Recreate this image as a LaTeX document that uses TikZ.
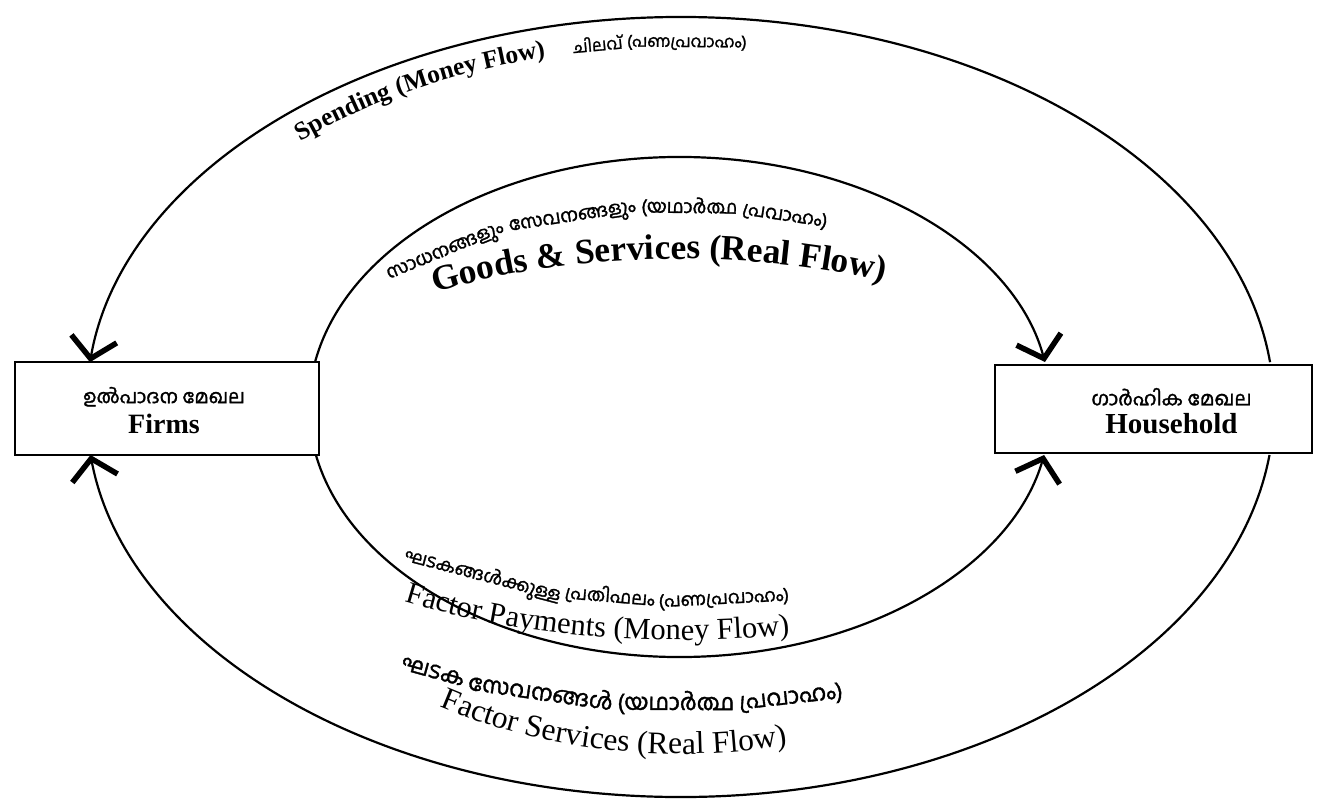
\documentclass[tikz,border=0pt]{standalone}
\usepackage{fontspec}
\setmainfont{Liberation Serif}
\newfontfamily\mlfont[Script=Malayalam,FakeBold=1.6]{Hind Kochi}
\usetikzlibrary{arrows.meta,decorations.text,calc}
\begin{document}
\begin{tikzpicture}[x=1pt,y=1pt,
  flow/.style={line width=2.2pt, -{Straight Barb[length=20pt,width=46pt,line width=5.5pt]}},
  sector/.style={draw, line width=2.6pt, fill=white, inner sep=0pt},
  arctext/.style={decorate, decoration={text along path, text align=left}},
  lbl/.style={align=center, inner sep=0pt},
]
\useasboundingbox[fill=white] (0,0) rectangle (1325,801);
\coordinate (C) at (680,394);

% ---- named end points on the ellipses ----
\coordinate (oTR) at ($(C)+(6.6:594 and 390)$);
\coordinate (oBR) at ($(C)+(352.93:594 and 390)$);
\coordinate (iTL) at ($(C)+(169.63:371 and 250)$);
\coordinate (iBL) at ($(C)+(191.07:371 and 250)$);

% ---- flows ----
\draw[flow] (oTR) arc[start angle=6.6, end angle=173.4, x radius=594, y radius=390];
\draw[flow] (oBR) arc[start angle=352.93, end angle=187.07, x radius=594, y radius=390];
\draw[flow] (iTL) arc[start angle=169.63, end angle=10.37, x radius=371, y radius=250];
\draw[flow] (iBL) arc[start angle=191.07, end angle=348.93, x radius=371, y radius=250];

% ---- sectors ----
\node[sector, minimum width=304pt, minimum height=93pt] (firms) at (167,392.5) {};
\node[sector, minimum width=317pt, minimum height=88pt] (house) at (1153.5,392) {};
\node[lbl] (firmslbl) at ($(firms.center)+(-3,-2)$)
  {{\mlfont\fontsize{19}{22}\selectfont ഉൽപാദന മേഖല}\\[7pt]{\bfseries\fontsize{28}{30}\selectfont Firms}};
\node[lbl] (houselbl) at ($(house.center)+(18,-2)$)
  {{\mlfont\fontsize{19.5}{22}\selectfont ഗാർഹിക മേഖല}\\[7pt]{\bfseries\fontsize{29}{31}\selectfont Household}};

% ---- curved labels ----
\path[arctext, decoration={text={|\bfseries\fontsize{25.5}{30}\selectfont|Spending (Money Flow){\kern28pt}|\mlfont\fontsize{16.5}{19}\selectfont|{ചിലവ്} {(പണപ്രവാഹം)}}}]
  ($(C)+(132.4:563 and 360)$) arc[start angle=132.4, end angle=30, x radius=563, y radius=360];

\path[arctext, decoration={text={|\mlfont\fontsize{18.5}{21}\selectfont|{സാധനങ്ങളും} {സേവനങ്ങളും} {(യഥാർത്ഥ} {പ്രവാഹം)}}}]
  ($(C)+(140.5:374 and 194)$) arc[start angle=140.5, end angle=5, x radius=374, y radius=194];

\path[arctext, decoration={text={|\bfseries\fontsize{35.5}{39}\selectfont|Goods {\&} Services (Real Flow)}}]
  ($(C)+(129.5:385 and 148)$) arc[start angle=129.5, end angle=10, x radius=385, y radius=148];

\path[arctext, decoration={text={|\mlfont\fontsize{18}{21}\selectfont|{ഘടകങ്ങൾക്കുള്ള} {പ്രതിഫലം} {(പണപ്രവാഹം)}}}]
  ($(C)+(228.4:414 and 198)$) arc[start angle=228.4, end angle=340, x radius=414, y radius=198];

\path[arctext, decoration={text={|\fontsize{30.5}{34}\selectfont|Factor Payments (Money Flow)}}]
  ($(C)+(236.6:500 and 233)$) arc[start angle=236.6, end angle=335, x radius=500, y radius=233];

\path[arctext, decoration={text={|\mlfont\fontsize{22.5}{25}\selectfont|{ഘടക} {സേവനങ്ങൾ} {(യഥാർത്ഥ} {പ്രവാഹം)}}}]
  ($(C)+(239.6:553 and 303)$) arc[start angle=239.6, end angle=335, x radius=553, y radius=303];

\path[arctext, decoration={text={|\fontsize{31.5}{35}\selectfont|Factor Services (Real Flow)}}]
  ($(C)+(239.7:476 and 347)$) arc[start angle=239.7, end angle=335, x radius=476, y radius=347];
\end{tikzpicture}
\end{document}
